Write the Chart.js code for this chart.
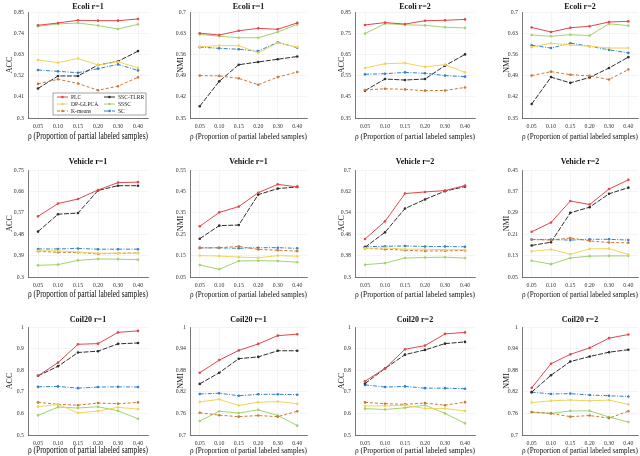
<!DOCTYPE html>
<html><head><meta charset="utf-8">
<script src="https://cdn.jsdelivr.net/npm/chart.js@4.4.0/dist/chart.umd.min.js"></script>
<style>
html,body{margin:0;padding:0;background:#fff;width:640px;height:456px;overflow:hidden}
#wrap{position:relative;width:640px;height:456px}
canvas{position:absolute;left:0;top:0}
</style></head><body>
<div id="wrap"></div>
<script>
// ---------- DATA ----------
const categories = ['0.05','0.10','0.15','0.20','0.30','0.40'];
const methods = ['PLC','DP-GLPCA','K-means','SSC-TLRR','SSSC','SC'];
const xTitle = 'ρ (Proportion of partial labeled samples)';

// each panel: series in the order of `methods`
const ecoliR1ACC = [
  [0.781,0.793,0.807,0.805,0.805,0.814],
  [0.601,0.587,0.609,0.575,0.592,0.560],
  [0.477,0.501,0.479,0.444,0.465,0.511],
  [0.453,0.518,0.518,0.575,0.594,0.647],
  [0.776,0.788,0.793,0.780,0.762,0.786],
  [0.549,0.542,0.535,0.556,0.578,0.547]];
const ecoliR1ACCTicks = [0.3,0.41,0.52,0.63,0.74,0.85];

const ecoliR1NMI = [
  [0.630,0.624,0.638,0.646,0.643,0.664],
  [0.585,0.589,0.589,0.565,0.598,0.584],
  [0.490,0.489,0.481,0.460,0.485,0.502],
  [0.389,0.471,0.526,0.535,0.544,0.553],
  [0.626,0.620,0.615,0.615,0.634,0.659],
  [0.584,0.580,0.577,0.571,0.600,0.582]];
const ecoliR1NMITicks = [0.35,0.42,0.49,0.56,0.63,0.7];

const ecoliR2ACC = [
  [0.789,0.800,0.793,0.809,0.811,0.815],
  [0.586,0.606,0.609,0.591,0.602,0.565],
  [0.482,0.488,0.485,0.479,0.480,0.494],
  [0.479,0.534,0.529,0.534,0.597,0.650],
  [0.748,0.795,0.790,0.787,0.778,0.775],
  [0.556,0.559,0.565,0.561,0.550,0.545]];
const ecoliR2ACCTicks = [0.35,0.45,0.55,0.65,0.75,0.85];

const ecoliR2NMI = [
  [0.649,0.634,0.648,0.653,0.667,0.669],
  [0.584,0.597,0.591,0.587,0.581,0.581],
  [0.490,0.503,0.493,0.489,0.477,0.510],
  [0.396,0.485,0.466,0.484,0.515,0.551],
  [0.624,0.620,0.625,0.622,0.661,0.655],
  [0.590,0.581,0.597,0.587,0.575,0.565]];
const ecoliR2NMITicks = [0.35,0.42,0.49,0.56,0.63,0.7];

const vehicleR1ACC = [
  [0.555,0.609,0.628,0.666,0.697,0.699],
  [0.410,0.410,0.405,0.400,0.400,0.400],
  [0.408,0.404,0.403,0.397,0.400,0.401],
  [0.491,0.564,0.569,0.664,0.684,0.684],
  [0.349,0.352,0.370,0.376,0.375,0.373],
  [0.418,0.418,0.420,0.417,0.417,0.417]];
const vehicleR1ACCTicks = [0.3,0.39,0.48,0.57,0.66,0.75];

const vehicleR1NMI = [
  [0.287,0.352,0.379,0.444,0.483,0.471],
  [0.150,0.148,0.143,0.140,0.150,0.147],
  [0.186,0.187,0.193,0.179,0.175,0.171],
  [0.229,0.290,0.293,0.435,0.463,0.471],
  [0.106,0.086,0.125,0.126,0.125,0.119],
  [0.186,0.186,0.184,0.187,0.187,0.184]];
const vehicleR1NMITicks = [0.05,0.15,0.25,0.35,0.45,0.55];

const vehicleR2ACC = [
  [0.442,0.508,0.612,0.618,0.623,0.642],
  [0.407,0.409,0.404,0.404,0.402,0.402],
  [0.407,0.404,0.400,0.397,0.398,0.399],
  [0.411,0.467,0.556,0.590,0.621,0.638],
  [0.346,0.352,0.371,0.373,0.374,0.371],
  [0.413,0.415,0.416,0.414,0.414,0.413]];
const vehicleR2ACCTicks = [0.3,0.38,0.46,0.54,0.62,0.7];

const vehicleR2NMI = [
  [0.219,0.254,0.334,0.321,0.379,0.413],
  [0.146,0.153,0.135,0.155,0.156,0.134],
  [0.190,0.188,0.196,0.185,0.179,0.178],
  [0.168,0.180,0.290,0.311,0.361,0.384],
  [0.111,0.098,0.121,0.128,0.129,0.129],
  [0.190,0.190,0.188,0.191,0.191,0.188]];
const vehicleR2NMITicks = [0.05,0.13,0.21,0.29,0.37,0.45];

const coilR1ACC = [
  [0.774,0.835,0.920,0.923,0.975,0.982],
  [0.631,0.642,0.602,0.611,0.628,0.620],
  [0.651,0.642,0.638,0.648,0.645,0.651],
  [0.774,0.818,0.882,0.888,0.922,0.926],
  [0.591,0.629,0.625,0.631,0.612,0.575],
  [0.723,0.725,0.717,0.722,0.723,0.722]];
const coilR1ACCTicks = [0.5,0.6,0.7,0.8,0.9,1];

const coilR1NMI = [
  [0.873,0.908,0.935,0.953,0.976,0.980],
  [0.792,0.799,0.782,0.791,0.793,0.787],
  [0.762,0.755,0.751,0.754,0.751,0.766],
  [0.842,0.873,0.912,0.917,0.934,0.934],
  [0.739,0.766,0.761,0.770,0.754,0.726],
  [0.814,0.816,0.809,0.813,0.813,0.812]];
const coilR1NMITicks = [0.7,0.76,0.82,0.88,0.94,1];

const coilR2ACC = [
  [0.749,0.808,0.897,0.914,0.968,0.975],
  [0.635,0.635,0.637,0.623,0.623,0.611],
  [0.651,0.645,0.642,0.648,0.638,0.652],
  [0.738,0.808,0.872,0.894,0.923,0.931],
  [0.622,0.618,0.626,0.638,0.600,0.554],
  [0.732,0.722,0.725,0.717,0.717,0.714]];
const coilR2ACCTicks = [0.5,0.6,0.7,0.8,0.9,1];

const coilR2NMI = [
  [0.831,0.898,0.924,0.942,0.969,0.979],
  [0.790,0.795,0.797,0.795,0.797,0.785],
  [0.764,0.760,0.751,0.754,0.747,0.766],
  [0.819,0.866,0.904,0.918,0.930,0.937],
  [0.763,0.760,0.767,0.767,0.750,0.736],
  [0.819,0.814,0.815,0.811,0.809,0.807]];
const coilR2NMITicks = [0.7,0.76,0.82,0.88,0.94,1];

const panels = [
  ['Ecoli r=1','ACC',ecoliR1ACC,ecoliR1ACCTicks],
  ['Ecoli r=1','NMI',ecoliR1NMI,ecoliR1NMITicks],
  ['Ecoli r=2','ACC',ecoliR2ACC,ecoliR2ACCTicks],
  ['Ecoli r=2','NMI',ecoliR2NMI,ecoliR2NMITicks],
  ['Vehicle r=1','ACC',vehicleR1ACC,vehicleR1ACCTicks],
  ['Vehicle r=1','NMI',vehicleR1NMI,vehicleR1NMITicks],
  ['Vehicle r=2','ACC',vehicleR2ACC,vehicleR2ACCTicks],
  ['Vehicle r=2','NMI',vehicleR2NMI,vehicleR2NMITicks],
  ['Coil20 r=1','ACC',coilR1ACC,coilR1ACCTicks],
  ['Coil20 r=1','NMI',coilR1NMI,coilR1NMITicks],
  ['Coil20 r=2','ACC',coilR2ACC,coilR2ACCTicks],
  ['Coil20 r=2','NMI',coilR2NMI,coilR2NMITicks]
];

// ---------- STYLE / LAYOUT ----------
const seriesColor = ['#e2474b','#f1d35a','#c9793a','#2e2e2e','#a2d46b','#2f80d0'];
const seriesDash  = [[],[],[3,2],[5,1.5],[],[4,1.5,1,1.5]];
const colLeft  = [28,190,355,522];
const colRight = [148,307,475,638];
const yAxisW   = [23,14,18,20];
const xTitleSize = [9.4,8.6,8.4,8.4];
const rowTop    = [12,170,327];
const rowBottom = [118,277,435];
const xAxisH    = [25,24,22];
const titleGap  = [5,8,7];
const FONT = '"Liberation Serif", "Times New Roman", serif';

const panelTitle = {
  id:'panelTitle',
  afterDraw(chart, args, opts){
    const a = chart.chartArea, ctx = chart.ctx;
    ctx.save();
    ctx.font = 'bold 8px ' + FONT;
    ctx.fillStyle = '#111';
    ctx.textAlign = 'center'; ctx.textBaseline = 'middle';
    ctx.fillText(opts.text, (a.left + a.right)/2, a.top - opts.gap);
    ctx.restore();
  }
};
const insideLegend = {
  id:'insideLegend',
  afterDatasetsDraw(chart, args, opts){
    if (!opts.show) return;
    const a = chart.chartArea, ctx = chart.ctx;
    const w = 93, h = 22, x0 = a.right - 2 - w, y0 = a.bottom - 3 - h;
    ctx.save();
    ctx.fillStyle = '#fff'; ctx.strokeStyle = '#666'; ctx.lineWidth = 0.6;
    ctx.fillRect(x0, y0, w, h); ctx.strokeRect(x0, y0, w, h);
    ctx.font = '5.6px ' + FONT; ctx.textBaseline = 'middle'; ctx.textAlign = 'left';
    chart.data.datasets.forEach((ds, i) => {
      const c = Math.floor(i/3), r = i % 3;
      const x = x0 + 4 + c*47, y = y0 + 4 + r*7;
      ctx.strokeStyle = ds.borderColor; ctx.lineWidth = 1; ctx.setLineDash(ds.borderDash);
      ctx.beginPath(); ctx.moveTo(x, y); ctx.lineTo(x + 11, y); ctx.stroke();
      ctx.setLineDash([]);
      ctx.fillStyle = ds.borderColor; ctx.beginPath(); ctx.arc(x + 5.5, y, 1.3, 0, Math.PI*2); ctx.fill();
      ctx.fillStyle = '#222'; ctx.fillText(ds.label, x + 14, y + 0.3);
    });
    ctx.restore();
  }
};

const wrap = document.getElementById('wrap');
panels.forEach((p, idx) => {
  const [title, yLabel, series, ticks] = p;
  const row = Math.floor(idx/4), col = idx % 4;
  const cv = document.createElement('canvas');
  cv.width = 640; cv.height = 456;
  cv.style.width = '640px'; cv.style.height = '456px';
  wrap.appendChild(cv);
  new Chart(cv, {
    type:'line',
    data:{
      labels: categories,
      datasets: series.map((vals, i) => ({
        label: methods[i], data: vals,
        borderColor: seriesColor[i], backgroundColor: seriesColor[i],
        borderWidth: 1, borderDash: seriesDash[i],
        pointRadius: 1.3, pointHoverRadius: 1.3, pointBorderWidth: 0,
        tension: 0, fill: false
      }))
    },
    options:{
      responsive:false, animation:false, events:[],
      layout:{padding:{
        left: colLeft[col] - yAxisW[col], right: 640 - colRight[col],
        top: rowTop[row], bottom: 456 - rowBottom[row] - xAxisH[row]}},
      plugins:{
        legend:{display:false}, tooltip:{enabled:false},
        panelTitle:{text:title, gap:titleGap[row]},
        insideLegend:{show: idx === 0}
      },
      scales:{
        x:{
          type:'category', offset:true,
          grid:{color:'#ececec', lineWidth:0.6, drawTicks:false, offset:false},
          border:{color:'#555', width:0.8},
          ticks:{font:{family:FONT, size:5.8}, color:'#333', padding:5, maxRotation:0, autoSkip:false},
          title:{display:true, text:xTitle, font:{family:FONT, size:xTitleSize[col]}, color:'#111', padding:{top:0,bottom:1}},
          afterFit: s => { s.height = xAxisH[row]; }
        },
        y:{
          min: ticks[0], max: ticks[ticks.length-1],
          grid:{color:'#ececec', lineWidth:0.6, drawTicks:false},
          border:{color:'#555', width:0.8},
          ticks:{font:{family:FONT, size:5.8}, color:'#333', padding:4,
                 callback: v => String(+(+v).toFixed(2))},
          afterBuildTicks: s => { s.ticks = ticks.map(v => ({value:v})); },
          title:{display:true, text:yLabel, font:{family:FONT, size:8}, color:'#111', padding:0},
          afterFit: s => { s.width = yAxisW[col]; }
        }
      }
    },
    plugins:[panelTitle, insideLegend]
  });
});
</script>
</body></html>
